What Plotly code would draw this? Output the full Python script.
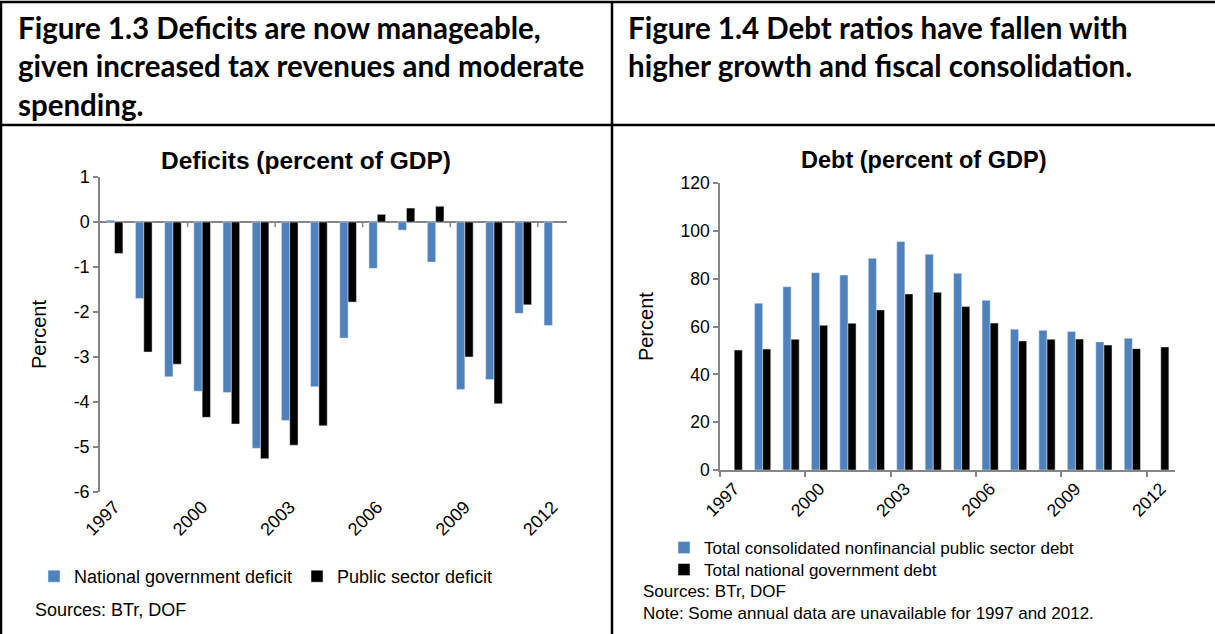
import plotly.graph_objects as go

W, H = 1215, 634

years = list(range(1997, 2013))
tick_years = [1997, 2000, 2003, 2006, 2009, 2012]
tick_text = [str(y) for y in tick_years]
boundary_ticks = [1999.5, 2002.5, 2005.5, 2008.5, 2011.5]
deficit_ticks = list(range(-6, 2))
deficit_tick_text = [str(v) for v in deficit_ticks]

# Deficits (percent of GDP)
national_gov_deficit = [0.04, -1.70, -3.44, -3.76, -3.79, -5.03, -4.41, -3.66,
                        -2.58, -1.03, -0.18, -0.89, -3.72, -3.50, -2.03, -2.30]
public_sector_deficit = [-0.70, -2.89, -3.16, -4.34, -4.49, -5.26, -4.96, -4.53,
                         -1.78, 0.17, 0.31, 0.35, -3.00, -4.04, -1.84, None]

# Debt (percent of GDP)
nfps_debt = [None, 69.8, 76.7, 82.6, 81.6, 88.6, 95.6, 90.3,
             82.3, 71.0, 58.9, 58.5, 58.0, 53.6, 55.1, None]
ng_debt = [50.2, 50.6, 54.7, 60.6, 61.4, 67.0, 73.7, 74.4,
           68.4, 61.5, 54.0, 54.7, 54.8, 52.3, 50.8, 51.5]

BLUE = "#4F81BD"
BLACK = "#000000"
AXIS = "#868686"
CHART_FONT = "Liberation Sans, Arial, sans-serif"
HEAD_FONT = "Lato, Carlito, sans-serif"


def fx(px):
    return px / W


def fy(py):
    return 1 - py / H


fig = go.Figure()

fig.add_trace(go.Bar(x=years, y=national_gov_deficit, name="National government deficit",
                     marker_color=BLUE, xaxis="x", yaxis="y", legend="legend"))
fig.add_trace(go.Bar(x=years, y=public_sector_deficit, name="Public sector deficit",
                     marker_color=BLACK, xaxis="x", yaxis="y", legend="legend"))
fig.add_trace(go.Bar(x=years, y=nfps_debt, name="Total consolidated nonfinancial public sector debt",
                     marker_color=BLUE, xaxis="x2", yaxis="y2", legend="legend2"))
fig.add_trace(go.Bar(x=years, y=ng_debt, name="Total national government debt",
                     marker_color=BLACK, xaxis="x2", yaxis="y2", legend="legend3"))

left_tick_font = dict(family=CHART_FONT, size=18, color="black")
right_tick_font = dict(family=CHART_FONT, size=17.5, color="black")
axis_title_font = dict(family=CHART_FONT, size=20, color="black")

xaxis_common = dict(
    range=[1996.5, 2012.5], tickmode="array", tickvals=tick_years, ticktext=tick_text,
    tickangle=-45, showgrid=False, zeroline=False, fixedrange=True, automargin=False,
)
yaxis_common = dict(
    showline=True, linecolor=AXIS, linewidth=1.5,
    ticks="outside", ticklen=5, tickcolor=AXIS, tickwidth=1.5, showgrid=False,
    fixedrange=True, automargin=False,
)

# boundary tick marks on the zero line of the deficit chart
shapes = []
for b in boundary_ticks:
    shapes.append(dict(type="line", xref="x", yref="y", x0=b, x1=b,
                       ysizemode="pixel", yanchor=0, y0=0, y1=-5,
                       line=dict(color=AXIS, width=1.5)))

# table borders around the two panels
border = dict(color="black", width=2.5)
shapes += [
    dict(type="line", xref="paper", yref="paper", x0=0, x1=1, y0=fy(2), y1=fy(2), line=border),
    dict(type="line", xref="paper", yref="paper", x0=0, x1=1, y0=fy(125), y1=fy(125), line=border),
    dict(type="line", xref="paper", yref="paper", x0=fx(1), x1=fx(1), y0=0, y1=fy(2), line=border),
    dict(type="line", xref="paper", yref="paper", x0=fx(612), x1=fx(612), y0=0, y1=fy(2), line=border),
]

head_font = dict(family=HEAD_FONT, size=29.5, color="black", weight="bold")
annotations = [
    dict(text="Figure 1.3 Deficits are now manageable,<br>given increased tax revenues and moderate<br>spending.",
         x=fx(16), y=fy(8), xref="paper", yref="paper", xanchor="left", yanchor="top",
         align="left", showarrow=False, font=head_font),
    dict(text="Figure 1.4 Debt ratios have fallen with<br>higher growth and fiscal consolidation.",
         x=fx(626), y=fy(8), xref="paper", yref="paper", xanchor="left", yanchor="top",
         align="left", showarrow=False, font=head_font),
    dict(text="<b>Deficits (percent of GDP)</b>", x=fx(306), y=fy(160), xref="paper", yref="paper",
         xanchor="center", yanchor="middle", showarrow=False,
         font=dict(family=CHART_FONT, size=24.5, color="black")),
    dict(text="<b>Debt (percent of GDP)</b>", x=fx(923), y=fy(160), xref="paper", yref="paper",
         xanchor="center", yanchor="middle", showarrow=False,
         font=dict(family=CHART_FONT, size=23.5, color="black")),
    dict(text="Sources: BTr, DOF", x=fx(33), y=fy(610), xref="paper", yref="paper",
         xanchor="left", yanchor="middle", showarrow=False,
         font=dict(family=CHART_FONT, size=18, color="black")),
    dict(text="Sources: BTr, DOF", x=fx(641), y=fy(591), xref="paper", yref="paper",
         xanchor="left", yanchor="middle", showarrow=False,
         font=dict(family=CHART_FONT, size=17, color="black")),
    dict(text="Note: Some annual data are unavailable for 1997 and 2012.", x=fx(641), y=fy(613),
         xref="paper", yref="paper", xanchor="left", yanchor="middle", showarrow=False,
         font=dict(family=CHART_FONT, size=17, color="black")),
]

legend_common = dict(bgcolor="rgba(0,0,0,0)", itemclick=False, itemdoubleclick=False,
                     xanchor="left", yanchor="top", tracegroupgap=0)

fig.update_layout(
    width=W, height=H, margin=dict(l=0, r=0, t=0, b=0, autoexpand=False),
    paper_bgcolor="white", plot_bgcolor="white",
    barmode="group", bargap=0.43, bargroupgap=0,
    font=dict(family=CHART_FONT, color="black"),
    xaxis=dict(domain=[fx(100), fx(567)], anchor="y", showline=False, ticks="",
               tickfont=left_tick_font, **xaxis_common),
    yaxis=dict(domain=[fy(492), fy(177)], anchor="x", range=[-6, 1],
               tickmode="array", tickvals=deficit_ticks, ticktext=deficit_tick_text,
               zeroline=True, zerolinecolor=AXIS, zerolinewidth=1.5, tickfont=left_tick_font,
               title=dict(text="Percent", font=axis_title_font, standoff=22), **yaxis_common),
    xaxis2=dict(domain=[fx(720), fx(1175)], anchor="y2", showline=True, linecolor=AXIS,
                linewidth=1.5, ticks="",
                minor=dict(tickmode="array", tickvals=[1996.5] + boundary_ticks,
                           ticks="outside", ticklen=5, tickcolor=AXIS, tickwidth=1.5),
                tickfont=right_tick_font, **xaxis_common),
    yaxis2=dict(domain=[fy(470), fy(183.3)], anchor="x2", range=[0, 120], dtick=20,
                tickmode="linear", tick0=0, zeroline=False, tickfont=right_tick_font,
                title=dict(text="Percent", font=axis_title_font, standoff=22), **yaxis_common),
    legend=dict(orientation="h", x=fx(34), y=fy(558),
                font=dict(family=CHART_FONT, size=18, color="black"),
                entrywidth=218, **legend_common),
    legend2=dict(orientation="v", x=fx(664), y=fy(530),
                 font=dict(family=CHART_FONT, size=17, color="black"), **legend_common),
    legend3=dict(orientation="v", x=fx(664), y=fy(552),
                 font=dict(family=CHART_FONT, size=17, color="black"), **legend_common),
    shapes=shapes,
    annotations=annotations,
    showlegend=True,
)

fig.write_html("out.html")
